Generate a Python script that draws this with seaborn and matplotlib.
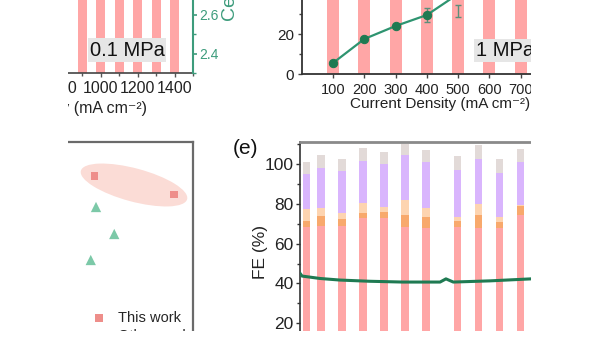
import numpy as np
import pandas as pd
import matplotlib
matplotlib.use("Agg")
import matplotlib.pyplot as plt
from matplotlib.patches import Ellipse, Rectangle
from matplotlib.ticker import MultipleLocator
import seaborn as sns

# ---------------- data ----------------
# panel (top-left) 0.1 MPa : FE bars at each current density
a_current = [100, 200, 300, 400, 500, 600, 700, 800, 900, 1000, 1100, 1200, 1300, 1400]
a_fe_main = [70, 72, 71, 73, 72, 70, 69, 68, 70, 71, 69, 68, 67, 66]

# panel (top-right) 1 MPa
b_current = [100, 200, 300, 400, 500, 600, 700]
b_fe_main = [60, 65, 68, 70, 72, 70, 68]
b_line_x = [100, 200, 300, 400, 500]
b_line_y = [5.5, 17.5, 24.0, 29.5, 40.0]
b_err_x = [400, 500]
b_err_y = [29.5, 31.5]
b_err = [3.5, 3.0]

# panel (bottom-left) comparison scatter
c_this_x = [605, 924]
c_this_y = [864, 791]
c_other_x = [612, 685, 591]
c_other_y = [740, 632, 528]
c_region = dict(center=(764, 828), width=440, height=133, angle=-15)

# panel (e) stability: stacked FE bars + voltage
d_time = [3, 10, 20, 30, 40, 50, 60, 75, 85, 95, 105]
d_pink = [68.6, 69.1, 68.9, 73.1, 72.8, 68.6, 67.7, 68.6, 68.1, 68.1, 74.5]
d_orange = [3.0, 4.9, 3.4, 2.5, 3.0, 5.9, 5.6, 3.0, 6.4, 2.7, 4.5]
d_peach = [5.7, 3.8, 3.0, 5.1, 2.5, 7.5, 4.9, 1.7, 5.3, 2.5, 0.5]
d_lav = [17.7, 20.5, 21.5, 21.1, 21.7, 22.7, 22.8, 23.8, 22.7, 22.5, 21.5]
d_gray = [6.0, 6.1, 5.7, 6.3, 6.0, 5.6, 6.2, 6.8, 6.9, 6.7, 6.8]
d_v_time = [0, 1, 9.5, 19, 33, 49, 66.7, 69.5, 73, 90.5, 110, 125]
d_v = [2.25, 2.18, 2.12, 2.08, 2.05, 2.03, 2.03, 2.11, 2.03, 2.06, 2.11, 2.12]

# ---------------- style ----------------
PINK = "#ffa6a6"
ORANGE = "#f8a96c"
PEACH = "#fdd4b0"
LAV = "#d9b5fd"
GRAY = "#e2dad8"
TEAL = "#3d9c7c"
LINEG = "#2e9470"
DARKG = "#1f7a52"
SQ = "#ee8e8a"
TRI = "#7cc9a8"

sns.set_theme(style="white")
plt.rcParams["font.family"] = ["Liberation Sans", "DejaVu Sans"]

W, H = 600, 338
fig = plt.figure(figsize=(W / 100, H / 100), dpi=100)


def box(l, t, r, b):
    return [l / W, 1 - b / H, (r - l) / W, (b - t) / H]


def fx(px):
    return px / W


def fy(py):
    return 1 - py / H


# ---------------- panel A ----------------
axA = fig.add_axes(box(-84, -63, 193, 73))
sns.barplot(x=a_current, y=a_fe_main, ax=axA, color=PINK, saturation=1,
            width=0.49, native_scale=True, errorbar=None, linewidth=0)
axA.set_xlim(0, 1500)
axA.set_ylim(0, 100)
axA.set_xticks([0, 200, 400, 600, 800, 1000, 1200, 1400])
axA.xaxis.set_minor_locator(MultipleLocator(100))
axA.tick_params(axis="x", which="major", bottom=True, length=3, width=1,
                color="#555555", labelsize=11.5, pad=3, labelcolor="#222222")
axA.tick_params(axis="x", which="minor", bottom=True, length=2, color="#555555")
axA.set_yticks([])
for s in ["top", "left", "right"]:
    axA.spines[s].set_visible(False)
axA.spines["bottom"].set_color("#444444")
axA.spines["bottom"].set_linewidth(1.2)
axA.set_xlabel("Current Density (mA cm⁻²)", fontsize=11.5, color="#222222", ha="right")
axA.xaxis.set_label_coords((147 + 84) / 277, (73 - 101) / 136)

axA2 = axA.twinx()
axA2.set_ylim(2.3, 3.0)
axA2.yaxis.set_major_locator(MultipleLocator(0.2))
axA2.yaxis.set_minor_locator(MultipleLocator(0.1))
axA2.tick_params(axis="y", which="major", right=True, length=3, width=1.2,
                 color=TEAL, labelcolor=TEAL, labelsize=10, pad=1.5)
axA2.tick_params(axis="y", which="minor", right=True, length=2, color=TEAL)
for s in ["top", "left", "bottom"]:
    axA2.spines[s].set_visible(False)
axA2.spines["right"].set_color(TEAL)
axA2.spines["right"].set_linewidth(1.5)
axA2.set_ylabel("Cell Voltage (V)", color=TEAL, fontsize=14)
axA2.yaxis.label.set_rotation(90)
axA2.yaxis.label.set_horizontalalignment("left")
axA2.yaxis.label.set_verticalalignment("center")
axA2.yaxis.set_label_coords((231 + 84) / 277, (73 - 21) / 136)

fig.text(fx(127), fy(50), "0.1 MPa", fontsize=14.5, ha="center", va="center",
         color="#111111",
         bbox=dict(boxstyle="square,pad=0.1", fc="#e6e6e6", ec="none"))

# ---------------- panel B ----------------
axB = fig.add_axes(box(301.7, -126, 552, 74))
sns.barplot(x=b_current, y=b_fe_main, ax=axB, color=PINK, saturation=1,
            width=0.38, native_scale=True, errorbar=None, linewidth=0)
sns.lineplot(x=b_line_x, y=b_line_y, ax=axB, color=LINEG, lw=1.6, marker="o",
             markersize=6, markerfacecolor=DARKG, markeredgecolor=DARKG, zorder=5)
axB.errorbar(b_err_x, b_err_y, yerr=b_err, fmt="none", ecolor="#5b8f7a",
             elinewidth=1, capsize=2, zorder=4)
axB.set_xlim(0, 800)
axB.set_ylim(0, 100)
axB.set_xticks([100, 200, 300, 400, 500, 600, 700, 800])
axB.yaxis.set_major_locator(MultipleLocator(20))
axB.yaxis.set_minor_locator(MultipleLocator(10))
axB.tick_params(axis="x", which="major", bottom=True, length=3, width=1,
                color="#444444", labelsize=10.5, pad=3.5, labelcolor="#222222")
axB.tick_params(axis="y", which="major", left=True, length=3, width=1,
                color="#444444", labelsize=11, pad=2.5, labelcolor="#222222")
axB.tick_params(axis="y", which="minor", left=True, length=2, color="#444444")
for s in ["top", "right"]:
    axB.spines[s].set_visible(False)
for s in ["left", "bottom"]:
    axB.spines[s].set_color("#333333")
    axB.spines[s].set_linewidth(1.3)
axB.set_xlabel("Current Density (mA cm⁻²)", fontsize=11, color="#222222", ha="left")
axB.xaxis.set_label_coords((350 - 301.7) / 250.3, (74 - 97) / 200)

fig.text(fx(476), fy(50.5), "1 MPa", fontsize=14.5, ha="left", va="center",
         color="#111111",
         bbox=dict(boxstyle="square,pad=0.1", fc="#e6e6e6", ec="none"))

# ---------------- panel C ----------------
axC = fig.add_axes(box(-57, 142, 193, 392))
axC.add_patch(Ellipse(c_region["center"], c_region["width"], c_region["height"],
                      angle=c_region["angle"], fc="#fbdcd6", ec="none", zorder=1))
sns.scatterplot(x=c_this_x, y=c_this_y, ax=axC, marker="s", s=28, color=SQ,
                edgecolor="none", label="This work", zorder=3)
sns.scatterplot(x=c_other_x, y=c_other_y, ax=axC, marker="^", s=55, color=TRI,
                edgecolor="none", label="Other works", zorder=3)
axC.set_xlim(0, 1000)
axC.set_ylim(0, 1000)
axC.set_xticks([])
axC.set_yticks([])
for s in ["left", "bottom"]:
    axC.spines[s].set_visible(False)
for s in ["top", "right"]:
    axC.spines[s].set_visible(True)
    axC.spines[s].set_color("#6a6a6a")
    axC.spines[s].set_linewidth(1.6)
h, l = axC.get_legend_handles_labels()
axC.legend(h, l, loc="upper left", bbox_to_anchor=(fx(86), fy(305)),
           bbox_transform=fig.transFigure, frameon=False, fontsize=10.5,
           handlelength=1.0, handletextpad=0.8, borderaxespad=0,
           labelspacing=0.3)

# ---------------- panel D (e) ----------------
axD = fig.add_axes(box(300, 141.7, 573, 363))
layers = [d_pink, d_orange, d_peach, d_lav, d_gray]
colors = [PINK, ORANGE, PEACH, LAV, GRAY]
cum = np.cumsum(np.array(layers), axis=0)
for i in range(len(layers) - 1, -1, -1):
    sns.barplot(x=d_time, y=cum[i], ax=axD, color=colors[i], saturation=1,
                width=0.5, native_scale=True, errorbar=None, linewidth=0)
axD.set_xlim(0, 130)
axD.set_ylim(0, 111.3)
axD.yaxis.set_minor_locator(MultipleLocator(10))
axD.set_yticks([20, 40, 60, 80, 100])
axD.set_xticks([])
axD.tick_params(axis="y", which="major", left=True, length=3, width=1,
                color="#333333", labelsize=12.5, pad=1.5, labelcolor="#222222")
axD.tick_params(axis="y", which="minor", left=True, length=2, color="#333333")
axD.spines["right"].set_visible(False)
axD.spines["bottom"].set_visible(False)
axD.spines["left"].set_color("#333333")
axD.spines["left"].set_linewidth(1.2)
axD.spines["top"].set_color("#8a8a8a")
axD.spines["top"].set_linewidth(2)
axD.set_ylabel("FE (%)", fontsize=12.5, color="#222222")
axD.yaxis.label.set_verticalalignment("center")
axD.yaxis.set_label_coords((260 - 300) / 273, (363 - 252) / 221.3)

axD2 = axD.twinx()
sns.lineplot(x=d_v_time, y=d_v, ax=axD2, color=DARKG, lw=2.2)
axD2.set_ylim(0, 5.55)
axD2.set_yticks([])
for s in axD2.spines.values():
    s.set_visible(False)

fig.text(fx(233), fy(149), "(e)", fontsize=15, ha="left", va="center", color="#111111")

# ---------------- crop mask ----------------
for r in [(0, 0, 68, H), (531, 0, W - 531, H), (0, 331, W, H - 331)]:
    x0, y0, w, hh = r
    fig.add_artist(Rectangle((x0 / W, 1 - (y0 + hh) / H), w / W, hh / H,
                             transform=fig.transFigure, fc="white", ec="none",
                             zorder=100))

fig.savefig("out.png", dpi=100)
